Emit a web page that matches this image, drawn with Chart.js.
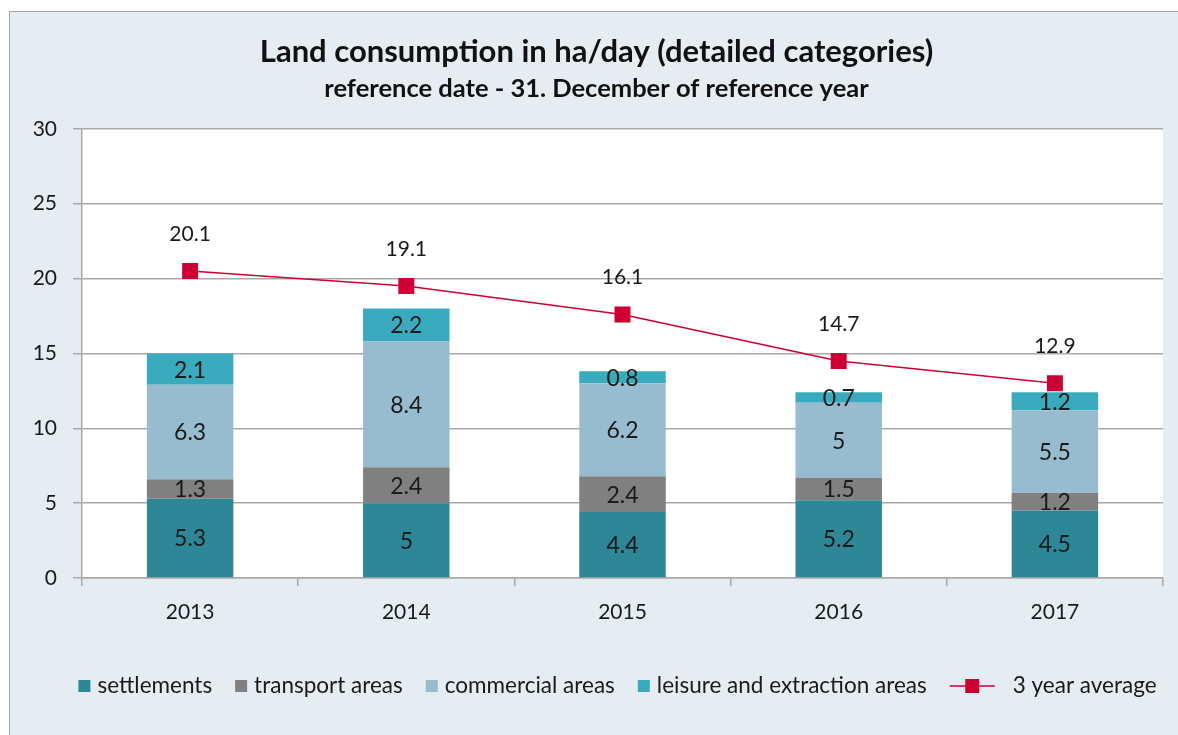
<!DOCTYPE html>
<html>
<head>
<meta charset="utf-8">
<script src="https://cdn.jsdelivr.net/npm/chart.js@4"></script>
<style>
    html, body { margin: 0; padding: 0; background: #fff; overflow: hidden; }
    body { width: 1178px; height: 735px; position: relative; }
    #frame { position: absolute; left: 9px; top: 11px; width: 1250px; height: 800px; background: #e5edf3; border: 1px solid #a6a6a6; }
    #wrap { position: absolute; left: 0; top: 0; width: 1178px; height: 735px; }
</style>
</head>
<body>
<div id="frame"></div>
<div id="wrap"><canvas id="landChart"></canvas></div>
<script>
const years = ["2013", "2014", "2015", "2016", "2017"];
const settlements = [5.3, 5, 4.4, 5.2, 4.5];
const transport = [1.3, 2.4, 2.4, 1.5, 1.2];
const commercial = [6.3, 8.4, 6.2, 5, 5.5];
const leisure = [2.1, 2.2, 0.8, 0.7, 1.2];
// where the markers sit in the picture, and the numbers printed above them
const avgPoints = [20.5, 19.5, 17.6, 14.5, 13.0];
const avgLabels = ["20.1", "19.1", "16.1", "14.7", "12.9"];

const FONT = "Lato, 'Open Sans', sans-serif";
const gridColor = "#a9a9a9";
const avgColor = "#cc0033";

// white plot area on the blue-grey background
const plotBg = {
    id: "plotBg",
    beforeDraw(chart) {
        const { ctx, chartArea: a } = chart;
        ctx.save();
        ctx.fillStyle = "#ffffff";
        ctx.fillRect(a.left, a.top, a.right - a.left, a.bottom - a.top);
        ctx.restore();
    }
};

// value labels in the bar segments and above the average markers
const valueLabels = {
    id: "valueLabels",
    afterDatasetsDraw(chart) {
        const ctx = chart.ctx;
        ctx.save();
        ctx.textAlign = "center";
        ctx.textBaseline = "middle";
        ctx.fillStyle = "#1a1a1a";
        chart.data.datasets.forEach((ds, i) => {
            const meta = chart.getDatasetMeta(i);
            meta.data.forEach((el, j) => {
                if (ds.type === "line") {
                    ctx.font = "21px " + FONT;
                    ctx.fillText(avgLabels[j], el.x, el.y - 37);
                } else {
                    const p = el.getProps(["x", "y", "base"], true);
                    ctx.font = "23px " + FONT;
                    ctx.fillText(String(ds.data[j]), p.x, (p.y + p.base) / 2 + 1);
                }
            });
        });
        ctx.restore();
    }
};

// legend row at the bottom (squares for bars, line + marker for the average)
const bottomLegend = {
    id: "bottomLegend",
    afterDraw(chart) {
        const ctx = chart.ctx;
        const order = [1, 2, 3, 4, 0];
        const cy = 686;
        ctx.save();
        ctx.font = "22.5px " + FONT;
        ctx.textBaseline = "middle";
        const items = order.map(i => {
            const ds = chart.data.datasets[i];
            const icon = ds.type === "line" ? 45 : 12;
            const gap = ds.type === "line" ? 18 : 7;
            return { ds, icon, gap, w: icon + gap + ctx.measureText(ds.label).width };
        });
        const spacing = 23;
        const total = items.reduce((s, it) => s + it.w, 0) + spacing * (items.length - 1);
        const a = chart.chartArea;
        let x = (a.left + a.right) / 2 - 5 - total / 2;
        items.forEach(it => {
            if (it.ds.type === "line") {
                ctx.strokeStyle = it.ds.borderColor;
                ctx.lineWidth = 1.5;
                ctx.beginPath();
                ctx.moveTo(x, cy);
                ctx.lineTo(x + it.icon, cy);
                ctx.stroke();
                ctx.fillStyle = it.ds.backgroundColor;
                ctx.fillRect(x + it.icon / 2 - 7, cy - 7, 14, 14);
            } else {
                ctx.fillStyle = it.ds.backgroundColor;
                ctx.fillRect(x, cy - 6, 12, 12);
            }
            ctx.fillStyle = "#1a1a1a";
            ctx.fillText(it.ds.label, x + it.icon + it.gap, cy);
            x += it.w + spacing;
        });
        ctx.restore();
    }
};

const canvas = document.getElementById("landChart");
new Chart(canvas, {
    type: "bar",
    data: {
        labels: years,
        datasets: [
            {
                type: "line",
                label: "3 year average",
                data: avgPoints,
                stack: "avg",
                order: 0,
                borderColor: avgColor,
                backgroundColor: avgColor,
                borderWidth: 1.5,
                pointStyle: "rect",
                pointRadius: 11.3,
                pointHoverRadius: 11.3,
                pointBorderWidth: 0,
                tension: 0
            },
            { label: "settlements", data: settlements, backgroundColor: "#2d8796", stack: "land", order: 1 },
            { label: "transport areas", data: transport, backgroundColor: "#808080", stack: "land", order: 1 },
            { label: "commercial areas", data: commercial, backgroundColor: "#98bccf", stack: "land", order: 1 },
            { label: "leisure and extraction areas", data: leisure, backgroundColor: "#3aabbf", stack: "land", order: 1 }
        ]
    },
    options: {
        responsive: true,
        maintainAspectRatio: false,
        animation: false,
        barPercentage: 0.4,
        categoryPercentage: 1,
        layout: { padding: { left: 30, right: 15, top: 0, bottom: 0 } },
        plugins: {
            legend: { display: false },
            tooltip: { enabled: false },
            title: {
                display: true,
                text: "Land consumption in ha/day (detailed categories)",
                color: "#111",
                font: { family: FONT, size: 31, weight: "bold" },
                padding: { top: 33, bottom: 3 }
            },
            subtitle: {
                display: true,
                text: "reference date - 31. December of reference year",
                color: "#111",
                font: { family: FONT, size: 25.5, weight: "bold" },
                padding: { top: 0, bottom: 25 }
            }
        },
        scales: {
            x: {
                stacked: true,
                grid: { drawOnChartArea: false, drawTicks: true, tickLength: 8, color: gridColor, lineWidth: 1.5 },
                border: { color: gridColor, width: 1.5 },
                ticks: { color: "#1a1a1a", padding: 14, font: { family: FONT, size: 21 } },
                afterFit(scale) { scale.height = 157; }
            },
            y: {
                stacked: true,
                min: 0,
                max: 30,
                grid: { color: gridColor, lineWidth: 1.5, tickLength: 9 },
                border: { color: gridColor, width: 1.5 },
                ticks: { stepSize: 5, color: "#1a1a1a", padding: 16, font: { family: FONT, size: 21 } },
                afterFit(scale) { scale.width = 52; }
            }
        }
    },
    plugins: [plotBg, valueLabels, bottomLegend]
});
</script>
</body>
</html>
